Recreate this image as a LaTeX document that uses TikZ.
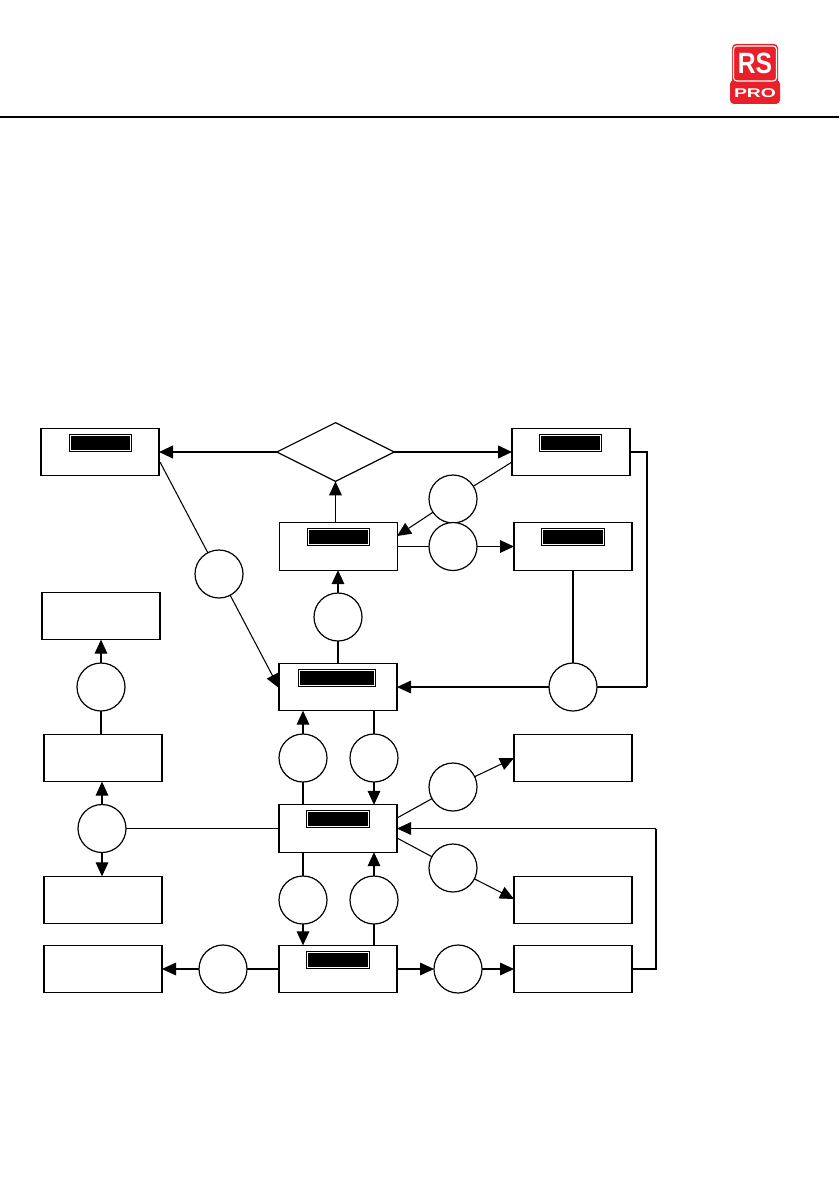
\documentclass[tikz,border=0pt]{standalone}
\usepackage{fontspec}
\setmainfont{Liberation Sans}
\usetikzlibrary{arrows.meta,shapes.geometric,calc}
\definecolor{rsred}{HTML}{E8202A}
\tikzset{
  x=0.75pt,y=-0.75pt,
  boxn/.style={draw,line width=0.9pt,fill=white,minimum width=88.5pt,minimum height=35.5pt,inner sep=0pt,outer sep=0pt},
  circn/.style={draw,line width=0.9pt,fill=white,circle,minimum size=36pt,inner sep=0pt,outer sep=0pt},
  conn/.style={line width=0.8pt},
  arr/.style={line width=0.8pt,-{Triangle[length=10.5pt,width=9.5pt]}},
  thk/.style={line width=1.4pt},
  thkarr/.style={line width=1.4pt,-{Triangle[length=10.5pt,width=9.5pt]}},
}
\newcommand{\blk}[5]{% name, x1,y1,x2,y2
  \fill[black] (#2,#3) rectangle (#4,#5);
  \draw[white,line width=0.75pt] (#2+1.7,#3+1.7) rectangle (#4-1.7,#5-1.7);
  \fill[black] (#2+2.8,#3+2.8) rectangle (#4-2.8,#5-2.8);
}
\begin{document}
\begin{tikzpicture}
\useasboundingbox (0,0) rectangle (839,1191);
\fill[white] (0,0) rectangle (839,1191);
% header rule
\coordinate (ruleL) at (0,117);
\coordinate (ruleR) at (839,117);
\draw[line width=1.6pt] (ruleL) -- (ruleR);
% logo
\fill[rsred,rounded corners=3pt] (730,80) rectangle (780,104);
\fill[rsred,rounded corners=3pt] (732,44) rectangle (778,84);
\draw[white,line width=0.8pt,rounded corners=2.5pt] (733.5,46) rectangle (776.5,81);
\node[text=white,font=\bfseries,xscale=1.85,yscale=2.2,inner sep=0pt] (logoRS) at (755,63.5) {RS};
\node[text=white,font=\bfseries,xscale=1.45,yscale=0.95,inner sep=0pt] (logoPRO) at (755,93.5) {PRO};
% boxes
\node[boxn] (A) at (100,452) {};
\node[boxn] (B) at (571,452) {};
\node[boxn] (C) at (338.5,546.5) {};
\node[boxn] (D) at (573,546.5) {};
\node[boxn] (E) at (338,687) {};
\node[boxn] (F) at (101,616) {};
\node[boxn] (G) at (103,758) {};
\node[boxn] (H) at (103,900) {};
\node[boxn] (I) at (103,969) {};
\node[boxn] (J) at (338,828.5) {};
\node[boxn] (K) at (338,969) {};
\node[boxn] (L) at (573,758) {};
\node[boxn] (M) at (573,900) {};
\node[boxn] (N) at (573,969) {};
\node[draw,diamond,line width=0.9pt,fill=white,aspect=2,minimum width=88pt,minimum height=44pt,inner sep=0pt,outer sep=0pt] (Q) at (335.5,452) {};
% circles
\node[circn] (c1) at (219,574) {};
\node[circn] (c2) at (453,499) {};
\node[circn] (c3) at (453,546.5) {};
\node[circn] (c4) at (338,617) {};
\node[circn] (c5) at (573,687) {};
\node[circn] (c6) at (101,687) {};
\node[circn] (c7) at (303,758) {};
\node[circn] (c8) at (374,758) {};
\node[circn] (c9) at (453,787) {};
\node[circn] (c10) at (453,868) {};
\node[circn] (c11) at (102,828.5) {};
\node[circn] (c12) at (303,900) {};
\node[circn] (c13) at (374,900) {};
\node[circn] (c14) at (223,969) {};
\node[circn] (c15) at (458,969) {};
% free corner points
\coordinate (bR) at (647,452);
\coordinate (eR) at (647,687);
\coordinate (nR) at (656,969);
\coordinate (jR) at (656,828.5);
\coordinate (Aout) at (160,462);
\coordinate (Ein) at (279,688);
\coordinate (Bout) at (512,462);
\coordinate (Cin) at (397,536);
\coordinate (Jup) at (397,818);
\coordinate (Jlo) at (397,838);
\coordinate (Lin) at (514,758);
\coordinate (Min) at (514,899);
% connectors
\draw[thkarr] (Q.west) -- (A.east);
\draw[thkarr] (Q.east) -- (B.west);
\draw[arr] (Q.south |- C.north) -- (Q.south);
\draw[conn] (Aout) -- (c1);
\draw[arr] (c1) -- (Ein);
\draw[conn] (Bout) -- (c2);
\draw[arr] (c2) -- (Cin);
\draw[conn] (C.east) -- (c3);
\draw[arr] (c3) -- (D.west);
\draw[arr] (c4) -- (C.south -| c4);
\draw[thk] (E.north -| c4) -- (c4);
\draw[thk] (B.east) -- (bR) -- (eR);
\draw[conn] (eR) -- (c5);
\draw[conn] (D.south) -- (c5);
\draw[arr] (c5) -- (E.east);
\draw[arr] (c6) -- (F.south -| c6);
\draw[conn] (G.north -| c6) -- (c6);
\draw[arr] (c7) -- (E.south -| c7);
\draw[conn] (J.north -| c7) -- (c7);
\draw[conn] (E.south -| c8) -- (c8);
\draw[arr] (c8) -- (J.north -| c8);
\draw[conn] (Jup) -- (c9);
\draw[arr] (c9) -- (Lin);
\draw[conn] (Jlo) -- (c10);
\draw[arr] (c10) -- (Min);
\draw[conn] (J.west) -- (c11);
\draw[arr] (c11) -- (G.south -| c11);
\draw[arr] (c11) -- (H.north -| c11);
\draw[conn] (J.south -| c12) -- (c12);
\draw[arr] (c12) -- (K.north -| c12);
\draw[conn] (K.north -| c13) -- (c13);
\draw[arr] (c13) -- (J.south -| c13);
\draw[conn] (K.west) -- (c14);
\draw[arr] (c14) -- (I.east);
\draw[arr] (K.east) -- (c15);
\draw[arr] (c15) -- (N.west);
\draw[conn] (N.east) -- (nR) -- (jR);
\draw[arr] (jR) -- (J.east);
% black label bars
\blk{A}{69}{434}{132}{452}
\blk{B}{539}{434}{602}{452}
\blk{C}{307}{528}{370}{546}
\blk{D}{541}{528}{605}{546}
\blk{E}{298}{669}{376}{687}
\blk{J}{306}{810}{370}{828}
\blk{K}{306}{951}{370}{969}
\end{tikzpicture}
\end{document}
